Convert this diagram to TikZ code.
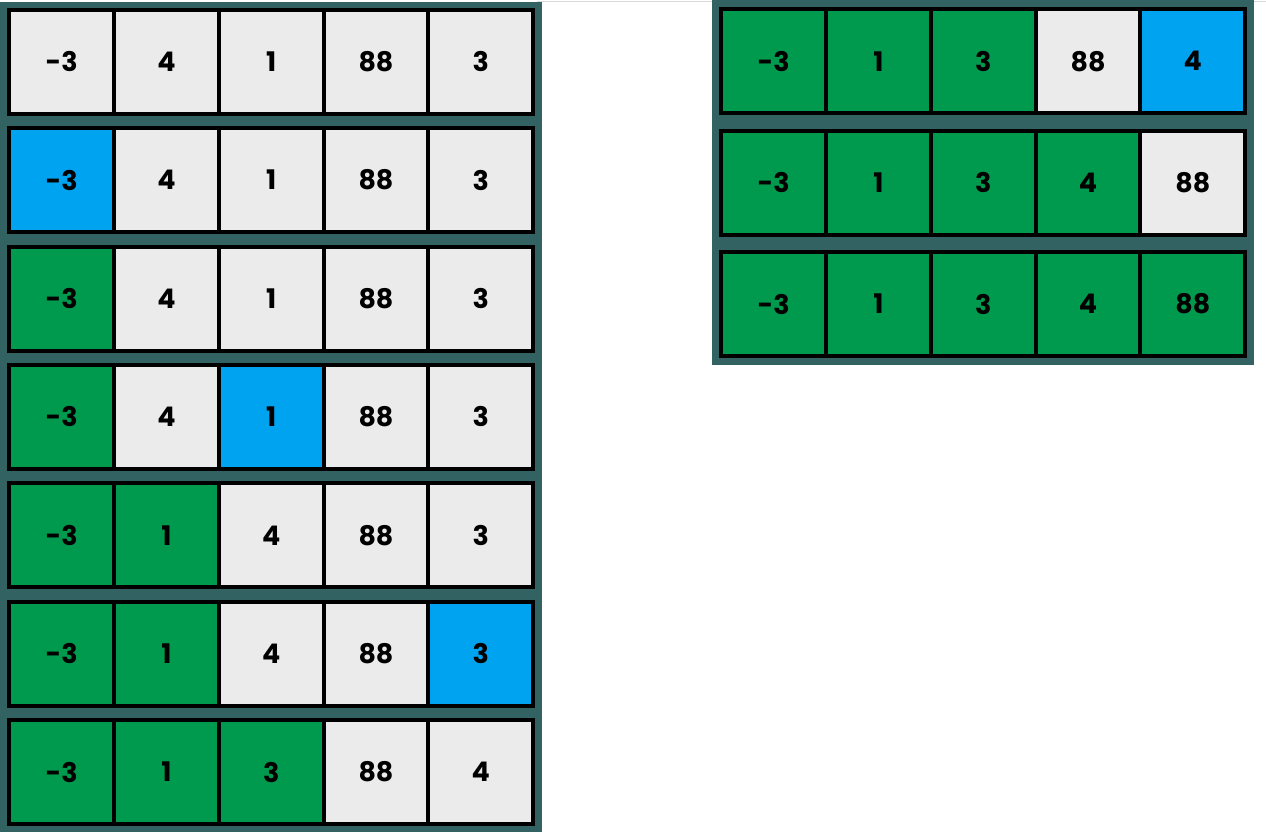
\documentclass[tikz,border=0pt]{standalone}
\usepackage{fontspec}
\setmainfont{Poppins}
\usetikzlibrary{matrix,positioning}
\definecolor{mygray}{RGB}{235,235,235}
\definecolor{mygreen}{RGB}{0,154,78}
\definecolor{myblue}{RGB}{0,163,240}
\definecolor{mypanel}{RGB}{50,98,98}

\begin{document}
\begin{tikzpicture}[x=1pt,y=1pt,
  amat/.style={matrix of nodes,column sep=-4pt,row sep=0pt,
  fill=mypanel,inner xsep=7pt,inner ysep=5.5pt,anchor=north west,
  nodes={draw=black,line width=4pt,outer sep=0pt,fill=mygray,anchor=center,
  minimum width=104.8pt,minimum height=104pt,
  font=\fontsize{27}{27}\selectfont\bfseries}},
  rmat/.style={amat,inner ysep=7pt},
  gnode/.style={fill=mygreen},
  bnode/.style={fill=myblue}]

  \useasboundingbox[fill=white] (0,0) rectangle (1266,-831);
  \draw[gray!30,line width=1pt] (537,-1) -- (1266,-1);

  % left column
  \matrix[amat] (mat1) at (0,-2) {-3 & 4 & 1 & 88 & 3\\};
  \matrix[amat,below=-1pt of mat1.south west,anchor=north west] (mat2) {|[bnode]| -3 & 4 & 1 & 88 & 3\\};
  \matrix[amat,below=-1pt of mat2.south west,anchor=north west] (mat3) {|[gnode]| -3 & 4 & 1 & 88 & 3\\};
  \matrix[amat,below=-1pt of mat3.south west,anchor=north west] (mat4) {|[gnode]| -3 & 4 & |[bnode]| 1 & 88 & 3\\};
  \matrix[amat,below=-1pt of mat4.south west,anchor=north west] (mat5) {|[gnode]| -3 & |[gnode]| 1 & 4 & 88 & 3\\};
  \matrix[amat,below=-1pt of mat5.south west,anchor=north west] (mat6) {|[gnode]| -3 & |[gnode]| 1 & 4 & 88 & |[bnode]| 3\\};
  \matrix[amat,below=-1pt of mat6.south west,anchor=north west] (mat7) {|[gnode]| -3 & |[gnode]| 1 & |[gnode]| 3 & 88 & 4\\};

  % right column
  \matrix[rmat] (mat8) at (712,0) {|[gnode]| -3 & |[gnode]| 1 & |[gnode]| 3 & 88 & |[bnode]| 4\\};
  \matrix[rmat,below=-1pt of mat8.south west,anchor=north west] (mat9) {|[gnode]| -3 & |[gnode]| 1 & |[gnode]| 3 & |[gnode]| 4 & 88\\};
  \matrix[rmat,below=-1pt of mat9.south west,anchor=north west] (mat10) {|[gnode]| -3 & |[gnode]| 1 & |[gnode]| 3 & |[gnode]| 4 & |[gnode]| 88\\};

\end{tikzpicture}
\end{document}
